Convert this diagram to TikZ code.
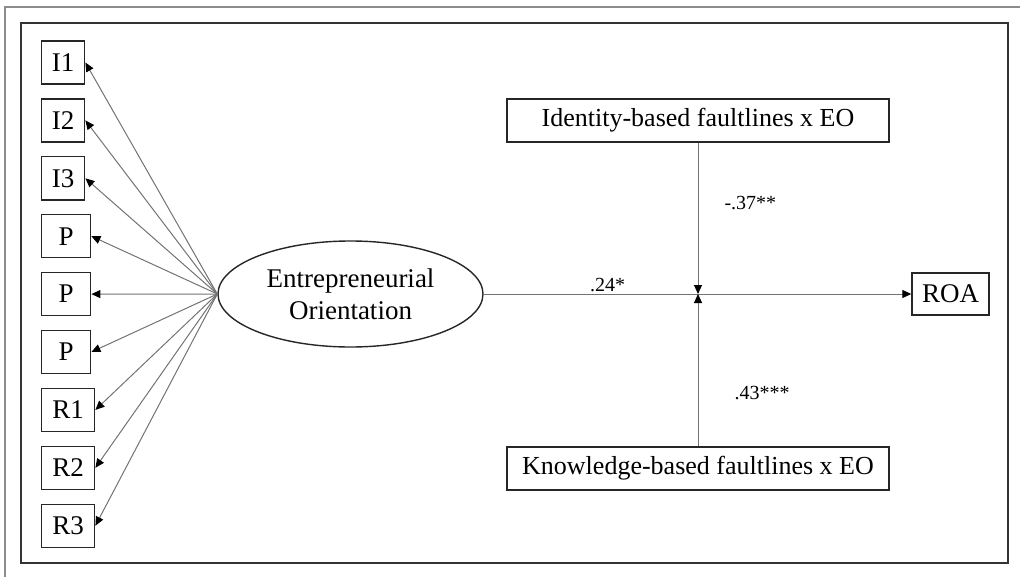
\documentclass[tikz,border=0pt]{standalone}
\usepackage{fontspec}
\setmainfont{Liberation Serif}
\usetikzlibrary{arrows.meta,shapes.geometric}
\tikzset{lnk/.style={draw=black!55, line width=0.5pt, -{Triangle[length=4.5pt,width=4pt,color=black]}},
  ind/.style={draw=black!85, line width=0.7pt, minimum height=21.5pt, inner sep=0pt, font=\fontsize{13.5}{15}\selectfont},
  mod/.style={draw=black!85, line width=0.7pt, minimum width=191pt, minimum height=21.5pt, inner sep=0pt, font=\fontsize{13}{15}\selectfont},
  coef/.style={font=\fontsize{10}{11}\selectfont, inner sep=1pt}}

\begin{document}
\begin{tikzpicture}[x=0.5pt, y=-0.5pt]
  \useasboundingbox (0,0) rectangle (1020,577);
  % frames
  \draw[black!45, line width=0.8pt] (5,577) -- (5,7) -- (1020,7);
  \draw[black!80, line width=0.8pt] (21,23) rectangle (1008,563);
  % latent construct
  \node[ellipse, draw=black!85, line width=0.7pt, minimum width=132.5pt, minimum height=53pt, inner sep=0pt,
    align=center, font=\fontsize{13.5}{16}\selectfont] (eo) at (350.5,294) {Entrepreneurial\\Orientation};
  % indicators on the left
  \foreach \nm/\lbl/\bw [count=\i] in {i1/I1/21.5, i2/I2/21.5, i3/I3/21.5, p1/P/24.5, p2/P/24.5,
    p3/P/24.5, r1/R1/26.5, r2/R2/26.5, r3/R3/26.5} {
    \node[ind, minimum width=\bw pt, anchor=west] (\nm) at (41,{62.5+57.9*(\i-1)}) {\lbl};
    \draw[lnk] (eo.west) -- (\nm.east);
  }
  % moderators and outcome
  \node[mod] (idb) at (698,120.5) {Identity-based faultlines x EO};
  \node[mod] (kb) at (698,468.5) {Knowledge-based faultlines x EO};
  \node[ind, minimum width=38.5pt, minimum height=21pt] (roa) at (950.5,294) {ROA};
  \coordinate (hit) at (idb.south |- roa.west);
  \draw[lnk] (eo.east) -- node[coef, above, pos=0.29] (b1) {.24*} (roa.west);
  \draw[lnk] (idb.south) -- node[coef, anchor=west, pos=0.4, xshift=12pt] (b2) {-.37**} (hit);
  \draw[lnk] (kb.north) -- node[coef, anchor=west, pos=0.35, xshift=17pt] (b3) {.43***} (hit);
\end{tikzpicture}
\end{document}
